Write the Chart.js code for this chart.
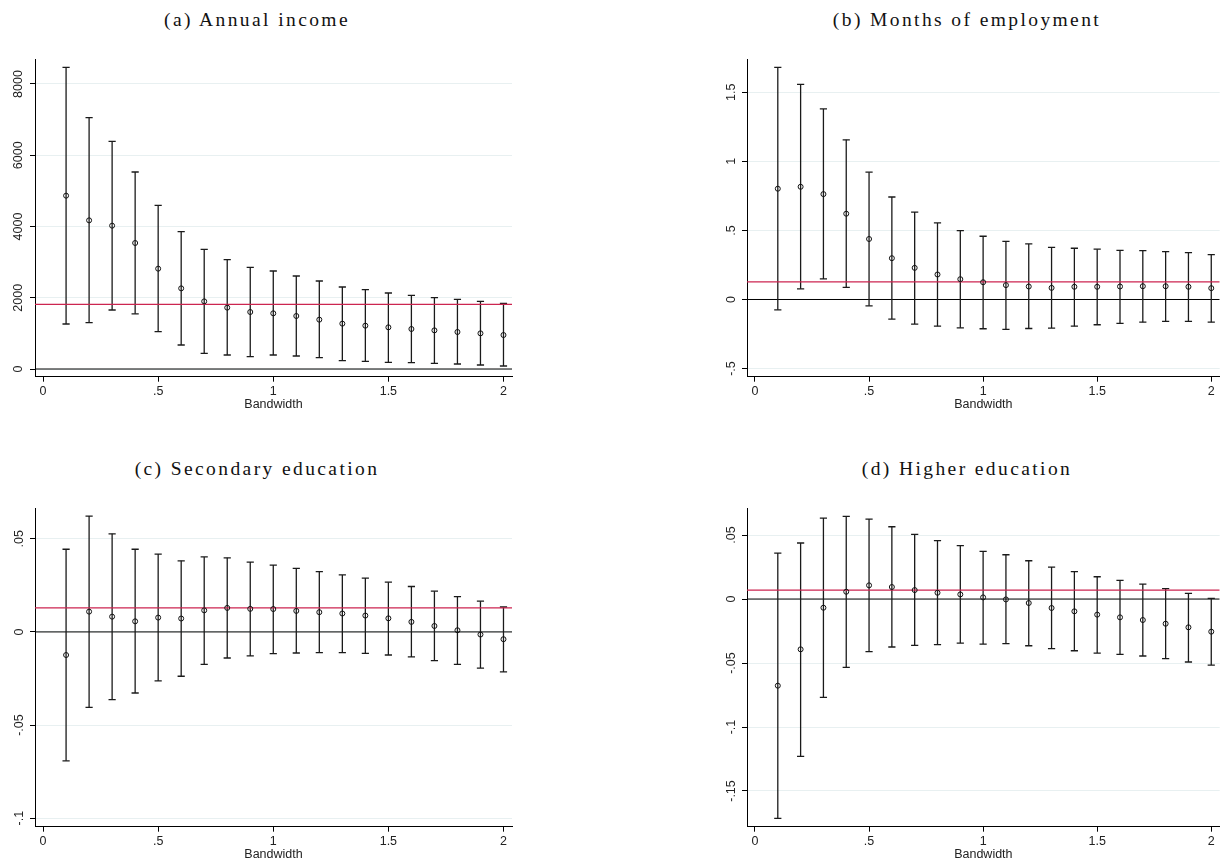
<!DOCTYPE html>
<html><head><meta charset="utf-8">
<script src="https://cdn.jsdelivr.net/npm/chart.js@4.4.0/dist/chart.umd.min.js"></script>
<style>
html,body{margin:0;padding:0;background:#fff;width:1225px;height:863px;overflow:hidden;position:relative;}
canvas{position:absolute;}
.ttl{position:absolute;font-family:"Liberation Serif",serif;font-size:19.5px;letter-spacing:2.4px;color:#111;white-space:nowrap;transform:translate(-50%,-50%);}
</style></head><body>
<div class="ttl" style="left:257px;top:20px">(a) Annual income</div>
<div class="ttl" style="left:967px;top:20px">(b) Months of employment</div>
<div class="ttl" style="left:257px;top:469px">(c) Secondary education</div>
<div class="ttl" style="left:967px;top:469px">(d) Higher education</div>
<canvas id="ca" width="520" height="380" style="left:0px;top:40px"></canvas>
<canvas id="cb" width="513" height="380" style="left:712px;top:40px"></canvas>
<canvas id="cc" width="520" height="374" style="left:0px;top:489px"></canvas>
<canvas id="cd" width="513" height="374" style="left:712px;top:489px"></canvas>
<script>
// ---- data ----
const bandwidths = [0.1,0.2,0.3,0.4,0.5,0.6,0.7,0.8,0.9,1.0,1.1,1.2,1.3,1.4,1.5,1.6,1.7,1.8,1.9,2.0];
const xTicks = [0, 0.5, 1, 1.5, 2];
const xTickLabels = ["0", ".5", "1", "1.5", "2"];
const xTitle = "Bandwidth";

const incomeEst = [4865,4173,4023,3537,2816,2264,1899,1722,1600,1563,1488,1385,1273,1216,1170,1123,1085,1039,1001,954];
const incomeHi  = [8468,7055,6391,5530,4594,3855,3359,3069,2854,2751,2611,2470,2302,2227,2133,2068,2002,1956,1900,1843];
const incomeLo  = [1263,1300,1656,1550,1048,674,440,393,346,393,365,318,234,215,187,178,159,140,112,84];
const incomeRef = 1815;
const incomeTicks = [0, 2000, 4000, 6000, 8000];
const incomeTickLabels = ["0", "2000", "4000", "6000", "8000"];

const monthsEst = [0.802,0.816,0.763,0.621,0.438,0.299,0.229,0.181,0.147,0.125,0.104,0.094,0.084,0.092,0.092,0.094,0.096,0.096,0.092,0.082];
const monthsHi  = [1.681,1.558,1.380,1.156,0.922,0.742,0.633,0.554,0.499,0.458,0.421,0.402,0.378,0.371,0.364,0.356,0.354,0.347,0.340,0.325];
const monthsLo  = [-0.075,0.077,0.149,0.087,-0.046,-0.142,-0.178,-0.193,-0.205,-0.212,-0.217,-0.210,-0.207,-0.193,-0.183,-0.173,-0.164,-0.159,-0.159,-0.164];
const monthsRef = 0.128;
const monthsTicks = [-0.5, 0, 0.5, 1, 1.5];
const monthsTickLabels = ["-.5", "0", ".5", "1", "1.5"];

const secEst = [-0.0124,0.0109,0.0082,0.0057,0.0077,0.0072,0.0116,0.0129,0.0124,0.0123,0.0113,0.0106,0.0099,0.0088,0.0073,0.0054,0.0032,0.0009,-0.0014,-0.0039];
const secHi  = [0.0444,0.0622,0.0527,0.0444,0.0418,0.0382,0.0403,0.0398,0.0375,0.0359,0.0341,0.0324,0.0306,0.0289,0.0267,0.0244,0.0219,0.0190,0.0165,0.0134];
const secLo  = [-0.0692,-0.0405,-0.0364,-0.0328,-0.0263,-0.0238,-0.0174,-0.0140,-0.0129,-0.0116,-0.0113,-0.0111,-0.0111,-0.0115,-0.0124,-0.0134,-0.0154,-0.0174,-0.0194,-0.0215];
const secRef = 0.0129;
const secTicks = [-0.1, -0.05, 0, 0.05];
const secTickLabels = ["-.1", "-.05", "0", ".05"];

const highEst = [-0.0677,-0.0393,-0.0068,0.0057,0.0107,0.0094,0.0070,0.0049,0.0036,0.0013,-0.0003,-0.0031,-0.0070,-0.0096,-0.0122,-0.0143,-0.0164,-0.0193,-0.0221,-0.0255];
const highHi  = [0.0359,0.0438,0.0633,0.0646,0.0625,0.0565,0.0505,0.0456,0.0417,0.0372,0.0346,0.0299,0.0250,0.0214,0.0174,0.0146,0.0117,0.0081,0.0044,0.0005];
const highLo  = [-0.1714,-0.1229,-0.0768,-0.0534,-0.0411,-0.0375,-0.0362,-0.0357,-0.0344,-0.0352,-0.0349,-0.0365,-0.0388,-0.0404,-0.0422,-0.0432,-0.0445,-0.0466,-0.0492,-0.0516];
const highRef = 0.0070;
const highTicks = [-0.15, -0.1, -0.05, 0, 0.05];
const highTickLabels = ["-.15", "-.1", "-.05", "0", ".05"];

// ---- styling / layout ----
const X_MIN = -0.035, X_MAX = 2.037;
const SANS = '"Liberation Sans", Arial, sans-serif';

function makeChart(id, est, lo, hi, ref, yTicks, yTickLabels, lay) {
  const whisker = [];
  const caps = [];
  bandwidths.forEach((b, i) => {
    whisker.push({x: b, y: lo[i]}, {x: b, y: hi[i]}, {x: b, y: null});
    caps.push({x: b, y: lo[i]}, {x: b, y: hi[i]});
  });
  const pts = bandwidths.map((b, i) => ({x: b, y: est[i]}));
  new Chart(document.getElementById(id), {
    type: 'scatter',
    data: {
      datasets: [
        {data: [{x: X_MIN, y: 0}, {x: X_MAX, y: 0}], showLine: true, borderColor: '#000', borderWidth: 1, pointRadius: 0, order: 5},
        {data: whisker, showLine: true, spanGaps: false, borderColor: '#1a1a1a', borderWidth: 1.3, pointRadius: 0, order: 4},
        {data: caps, showLine: false, pointStyle: 'line', pointRadius: 3.6, pointBorderWidth: 1.3, borderColor: '#1a1a1a', backgroundColor: '#1a1a1a', order: 3},
        {data: [{x: X_MIN, y: ref}, {x: X_MAX, y: ref}], showLine: true, borderColor: '#cc2550', borderWidth: 1.3, pointRadius: 0, order: 2},
        {data: pts, showLine: false, pointStyle: 'circle', pointRadius: 2.5, pointBorderWidth: 1, borderColor: '#111', backgroundColor: 'rgba(255,255,255,0)', order: 1}
      ]
    },
    options: {
      responsive: false,
      animation: false,
      devicePixelRatio: 1,
      events: [],
      layout: {padding: {left: 0, right: lay.padRight, top: 19.3, bottom: 0}},
      plugins: {legend: {display: false}, tooltip: {enabled: false}, title: {display: false}},
      scales: {
        x: {
          type: 'linear', min: X_MIN, max: X_MAX,
          afterBuildTicks: s => { s.ticks = xTicks.map(v => ({value: v})); },
          afterFit: s => { s.height = lay.xHeight; },
          ticks: {callback: (v, i) => xTickLabels[i], font: {family: SANS, size: 12.5}, color: '#222', padding: 2, autoSkip: false, maxRotation: 0, minRotation: 0},
          grid: {drawOnChartArea: false, tickLength: 5, tickColor: '#000', tickWidth: 1},
          border: {display: true, color: '#000', width: 1},
          title: {display: true, text: xTitle, font: {family: SANS, size: 12.5}, color: '#222', padding: {top: 0, bottom: lay.titlePad}}
        },
        y: {
          type: 'linear', min: lay.yMin, max: lay.yMax,
          afterBuildTicks: s => { s.ticks = yTicks.map(v => ({value: v})); },
          afterFit: s => { s.width = 35; },
          ticks: {callback: (v, i) => yTickLabels[i], font: {family: SANS, size: 12.5}, color: '#222', padding: lay.yPad, minRotation: 90, maxRotation: 90, crossAlign: 'center', autoSkip: false},
          grid: {color: '#e8f0f1', lineWidth: 1, tickLength: 5, tickColor: '#000', tickWidth: 1},
          border: {display: true, color: '#000', width: 1}
        }
      }
    }
  });
}

makeChart('ca', incomeEst, incomeLo, incomeHi, incomeRef, incomeTicks, incomeTickLabels,
  {padRight: 8, xHeight: 43.3, titlePad: 7.5, yMin: -216, yMax: 8693, yPad: -2.5});
makeChart('cb', monthsEst, monthsLo, monthsHi, monthsRef, monthsTicks, monthsTickLabels,
  {padRight: 3, xHeight: 43.3, titlePad: 7.5, yMin: -0.559, yMax: 1.739, yPad: 1.3});
makeChart('cc', secEst, secLo, secHi, secRef, secTicks, secTickLabels,
  {padRight: 8, xHeight: 36.3, titlePad: 0.5, yMin: -0.1046, yMax: 0.0664, yPad: -0.75});
makeChart('cd', highEst, highLo, highHi, highRef, highTicks, highTickLabels,
  {padRight: 3, xHeight: 36.3, titlePad: 0.5, yMin: -0.1779, yMax: 0.0709, yPad: -0.75});
</script>
</body></html>
